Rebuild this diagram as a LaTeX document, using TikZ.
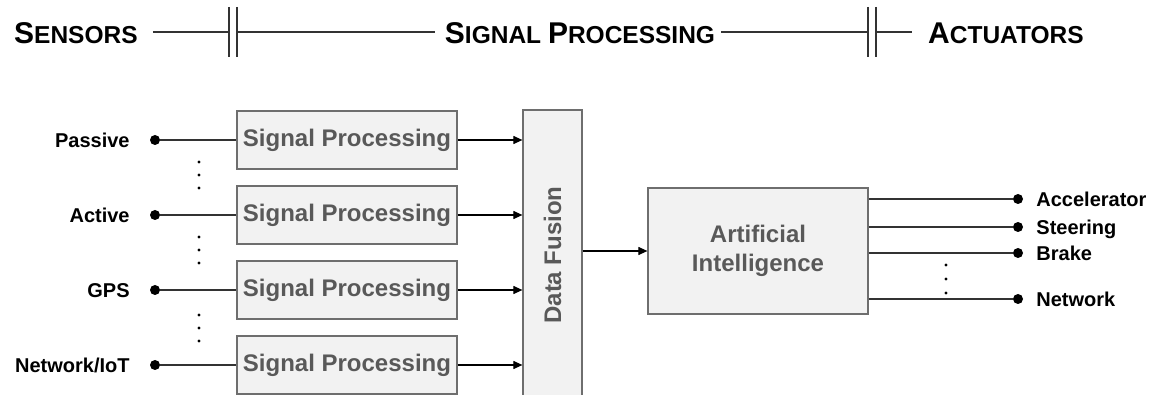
\documentclass[tikz,border=0pt]{standalone}
\usepackage{fontspec}
\usepackage{graphicx}
\setmainfont{Liberation Sans}
\usetikzlibrary{arrows.meta,positioning}

\definecolor{boxfill}{HTML}{F2F2F2}
\definecolor{boxline}{HTML}{6E6E6E}
\definecolor{boxtext}{HTML}{595959}
\definecolor{wirecol}{HTML}{333333}

% fake small caps for the header
\newcommand{\capsfake}[2]{{\fontsize{30}{30}\selectfont #1}{\fontsize{24.5}{24.5}\selectfont #2}}

\tikzset{
  block/.style={draw=boxline, line width=1.2pt, fill=boxfill, text=boxtext,
    font=\fontsize{24}{29}\selectfont\bfseries, align=center, inner sep=0pt},
  spbox/.style={block, minimum width=220pt, minimum height=58pt},
  port/.style={circle, fill=black, inner sep=0pt, minimum size=10pt},
  lbl/.style={font=\fontsize{20}{20}\selectfont\bfseries, inner sep=0pt,
    text height=14.3pt, text depth=0pt},
  hdr/.style={font=\bfseries, inner sep=0pt, anchor=base},
  wire/.style={draw=wirecol, line width=1.1pt},
  flow/.style={draw=black, line width=1.1pt, -{Triangle[length=9pt,width=8pt]}},
}

\begin{document}
\begin{tikzpicture}[x=1pt,y=-1pt]
    \useasboundingbox (0,0) rectangle (1149,395);

    % Header
    \node[hdr, anchor=base west] (sensors) at (14,43.5) {\capsfake{S}{ENSORS}};
    \node[hdr] (sigproc) at (580,43.5) {\capsfake{S}{IGNAL }\capsfake{P}{ROCESSING}};
    \node[hdr, anchor=base west] (actuators) at (928,43.5) {\capsfake{A}{CTUATORS}};

    \coordinate (split1) at (229,32);
    \coordinate (split2) at (237,32);
    \coordinate (split3) at (868,32);
    \coordinate (split4) at (876,32);
    \foreach \s in {split1,split2,split3,split4}
      \draw[wire] ([yshift=25pt]\s) -- ([yshift=-25pt]\s);
    \draw[wire] ([xshift=15pt]sensors.east |- split1) -- (split1);
    \draw[wire] (split2) -- ([xshift=-10pt]sigproc.west |- split2);
    \draw[wire] ([xshift=6pt]sigproc.east |- split3) -- (split3);
    \draw[wire] (split4) -- ([xshift=-16pt]actuators.west |- split4);

    % Sensors and signal processing
    \foreach \txt/\y [count=\i] in {Passive/140, Active/215, GPS/290, {Network/IoT}/365} {
      \node[spbox] (sp\i) at (347,\y) {Signal Processing};
      \node[port] (in\i) at (155,\y) {};
      \node[lbl, left=20pt of in\i] (src\i) {\txt};
      \draw[wire] (in\i) -- (sp\i);
    }
    \foreach \y in {162,175,188,237,250,263,315,328,341}
      \fill (199,\y) circle (1.7pt);

    % Data fusion
    \node[block, minimum width=59pt, minimum height=290pt] (df) at (552.5,255)
      {\rotatebox{90}{Data Fusion}};
    \foreach \i in {1,...,4}
      \draw[flow] (sp\i.east) -- (sp\i.east -| df.west);

    % Artificial intelligence
    \node[block, minimum width=220pt, minimum height=126pt] (ai) at (758,251)
      {Artificial\\Intelligence};
    \draw[flow] (df.east |- ai.west) -- (ai.west);

    % Actuators
    \foreach \txt/\y [count=\i] in {Accelerator/199, Steering/227, Brake/253, Network/299} {
      \node[port] (out\i) at (1018,\y) {};
      \node[lbl, right=13pt of out\i] (act\i) {\txt};
      \draw[wire] (out\i -| ai.east) -- (out\i);
    }
    \foreach \y in {265,279,293}
      \fill (946,\y) circle (1.7pt);
\end{tikzpicture}
\end{document}
